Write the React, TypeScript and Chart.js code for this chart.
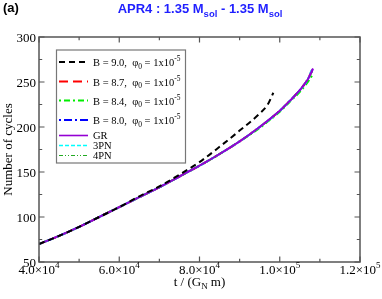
import React, { useEffect, useRef } from "react";
import { Chart, registerables } from "chart.js";

Chart.register(...registerables);

// ---- data ----
const tGR = [40000, 45000, 50000, 55000, 60000, 65000, 70000, 75000, 80000, 85000, 90000, 95000, 100000, 102500, 105000, 107000, 108300];
const nGR = [70, 79, 89, 100, 111, 122, 133, 145, 157, 170, 184, 200, 218, 229, 241, 253, 265];

const tB90 = [40000, 45000, 50000, 55000, 60000, 65000, 70000, 75000, 80000, 85000, 90000, 95000, 97000, 98400];
const nB90 = [70, 79, 89, 100, 111, 123, 134, 147, 161, 178, 196, 215, 225, 238];

const tB87 = [40000, 45000, 50000, 55000, 60000, 65000, 70000, 75000, 80000, 85000, 90000, 95000, 100000, 102500, 105000, 107000, 108000];
const nB87 = [70, 79, 89, 100, 111, 122, 133, 145, 157, 170, 184, 200, 218, 229, 241, 253, 263];

const tB84 = [40000, 45000, 50000, 55000, 60000, 65000, 70000, 75000, 80000, 85000, 90000, 95000, 100000, 102500, 105000, 107000, 108300];
const nB84 = [70, 79, 89, 100, 111, 122, 133, 145, 157, 170, 184, 199, 217, 228, 239, 250, 259];

const tB80 = [40000, 45000, 50000, 55000, 60000, 65000, 70000, 75000, 80000, 85000, 90000, 95000, 100000, 102500, 105000, 107000, 108200];
const nB80 = [70, 79, 89, 100, 111, 122, 133, 145, 157, 170, 184, 200, 218, 229, 241, 253, 264];

const t3PN = [40000, 45000, 50000, 55000, 60000, 65000, 70000, 75000, 80000, 85000, 90000, 95000, 100000, 102500, 105000, 107000, 108000];
const n3PN = [70, 79, 89, 100, 111, 122, 133, 145, 157, 170, 184, 200, 218, 229, 241, 253, 264];

const t4PN = [40000, 45000, 50000, 55000, 60000, 65000, 70000, 75000, 80000, 85000, 90000, 95000, 100000, 102500, 105000, 107000, 108100];
const n4PN = [70, 79, 89, 100, 111, 122, 133, 145, 157, 170, 184, 200, 218, 229, 241, 252, 262];

const xMajorTicks = [40000, 60000, 80000, 100000, 120000];
const xTickBase = ["4.0×10", "6.0×10", "8.0×10", "1.0×10", "1.2×10"];
const xTickExp = ["4", "4", "4", "5", "5"];
const yMajorTicks = [50, 100, 150, 200, 250, 300];

type Series = { label: string; t: number[]; n: number[]; color: string; dash: number[]; width: number; phi: boolean };

const series: Series[] = [
  { label: "B = 9.0,", t: tB90, n: nB90, color: "#000000", dash: [6, 4], width: 2, phi: true },
  { label: "B = 8.7,", t: tB87, n: nB87, color: "#ff0000", dash: [9, 5], width: 2, phi: true },
  { label: "B = 8.4,", t: tB84, n: nB84, color: "#00ee00", dash: [2, 3, 6, 3], width: 2, phi: true },
  { label: "B = 8.0,", t: tB80, n: nB80, color: "#0000ff", dash: [2, 3, 8, 3], width: 2, phi: true },
  { label: "GR", t: tGR, n: nGR, color: "#9400d3", dash: [], width: 1.6, phi: false },
  { label: "3PN", t: t3PN, n: n3PN, color: "#00ffff", dash: [4, 2], width: 1.6, phi: false },
  { label: "4PN", t: t4PN, n: n4PN, color: "#22aa22", dash: [4, 2, 1, 2, 1, 2], width: 1.2, phi: false },
];

const drawOrder = [0, 4, 5, 2, 1, 3, 6];

const SERIF = "'Liberation Serif', 'DejaVu Serif', serif";
const SANS = "'Liberation Sans', Arial, sans-serif";

type Part = { text: string; font: string; dy: number };

function richWidth(ctx: CanvasRenderingContext2D, parts: Part[]) {
  let w = 0;
  for (const p of parts) {
    ctx.font = p.font;
    w += ctx.measureText(p.text).width;
  }
  return w;
}

function drawRich(ctx: CanvasRenderingContext2D, parts: Part[], x: number, y: number, align: "left" | "center" | "right") {
  const w = richWidth(ctx, parts);
  let cx = align === "left" ? x : align === "center" ? x - w / 2 : x - w;
  ctx.textAlign = "left";
  ctx.textBaseline = "alphabetic";
  for (const p of parts) {
    ctx.font = p.font;
    ctx.fillText(p.text, cx, y + p.dy);
    cx += ctx.measureText(p.text).width;
  }
}

const decorPlugin = {
  id: "decor",
  afterDraw(chart: any) {
    const ctx: CanvasRenderingContext2D = chart.ctx;
    const { left, right, top, bottom } = chart.chartArea;
    const xs = chart.scales.x;
    const ys = chart.scales.y;
    ctx.save();

    // frame
    ctx.strokeStyle = "#555555";
    ctx.lineWidth = 1.5;
    ctx.setLineDash([]);
    ctx.strokeRect(left, top, right - left, bottom - top);

    // ticks
    ctx.lineWidth = 1.2;
    for (let v = 40000; v <= 120000; v += 10000) {
      const px = xs.getPixelForValue(v);
      const len = v % 20000 === 0 ? 5.5 : 3.2;
      ctx.beginPath();
      ctx.moveTo(px, bottom);
      ctx.lineTo(px, bottom - len);
      ctx.moveTo(px, top);
      ctx.lineTo(px, top + len);
      ctx.stroke();
    }
    for (let v = 50; v <= 300; v += 25) {
      const py = ys.getPixelForValue(v);
      const len = v % 50 === 0 ? 5.5 : 3.2;
      ctx.beginPath();
      ctx.moveTo(left, py);
      ctx.lineTo(left + len, py);
      ctx.moveTo(right, py);
      ctx.lineTo(right - len, py);
      ctx.stroke();
    }

    ctx.fillStyle = "#000000";
    // y tick labels
    ctx.font = `13px ${SERIF}`;
    ctx.textAlign = "right";
    ctx.textBaseline = "alphabetic";
    for (const v of yMajorTicks) {
      const py = ys.getPixelForValue(v);
      ctx.fillText(String(v), left - 3, py + 4.5);
    }
    // x tick labels
    xMajorTicks.forEach((v, i) => {
      const px = xs.getPixelForValue(v);
      drawRich(
        ctx,
        [
          { text: xTickBase[i], font: `13px ${SERIF}`, dy: 0 },
          { text: xTickExp[i], font: `9px ${SERIF}`, dy: -6 },
        ],
        px,
        bottom + 11.5,
        "center"
      );
    });

    // axis titles
    drawRich(
      ctx,
      [
        { text: "t / (G", font: `13px ${SERIF}`, dy: 0 },
        { text: "N", font: `9px ${SERIF}`, dy: 3 },
        { text: " m)", font: `13px ${SERIF}`, dy: 0 },
      ],
      (left + right) / 2,
      286,
      "center"
    );
    ctx.save();
    ctx.translate(11.5, (top + bottom) / 2);
    ctx.rotate(-Math.PI / 2);
    ctx.font = `13px ${SERIF}`;
    ctx.textAlign = "center";
    ctx.fillText("Number of cycles", 0, 0);
    ctx.restore();

    // titles
    ctx.font = `bold 13px ${SANS}`;
    ctx.textAlign = "left";
    ctx.fillText("(a)", 3, 11.5);
    ctx.fillStyle = "#1f1fff";
    drawRich(
      ctx,
      [
        { text: "APR4 : 1.35 M", font: `bold 13px ${SANS}`, dy: 0 },
        { text: "sol", font: `bold 9.5px ${SANS}`, dy: 4 },
        { text: " - 1.35 M", font: `bold 13px ${SANS}`, dy: 0 },
        { text: "sol", font: `bold 9.5px ${SANS}`, dy: 4 },
      ],
      200,
      13,
      "center"
    );

    // legend
    const lx0 = 56.5, ly0 = 50, lx1 = 185.5, ly1 = 163;
    ctx.fillStyle = "#ffffff";
    ctx.fillRect(lx0, ly0, lx1 - lx0, ly1 - ly0);
    ctx.strokeStyle = "#777777";
    ctx.lineWidth = 1.2;
    ctx.setLineDash([]);
    ctx.strokeRect(lx0, ly0, lx1 - lx0, ly1 - ly0);
    const rowY = [62, 81.5, 100.5, 120, 135.5, 145.5, 155.5];
    series.forEach((s, i) => {
      const y = rowY[i];
      ctx.strokeStyle = s.color;
      ctx.lineWidth = s.width;
      ctx.setLineDash(s.dash);
      ctx.beginPath();
      ctx.moveTo(59, y);
      ctx.lineTo(88, y);
      ctx.stroke();
      ctx.setLineDash([]);
      ctx.fillStyle = "#000000";
      if (s.phi) {
        drawRich(
          ctx,
          [
            { text: s.label + "  φ", font: `10.5px ${SERIF}`, dy: 0 },
            { text: "0", font: `7.5px ${SERIF}`, dy: 2.5 },
            { text: " = 1x10", font: `10.5px ${SERIF}`, dy: 0 },
            { text: "-5", font: `7.5px ${SERIF}`, dy: -5 },
          ],
          93,
          y + 4,
          "left"
        );
      } else {
        ctx.font = `10.5px ${SERIF}`;
        ctx.textAlign = "left";
        ctx.fillText(s.label, 93, y + 3.5);
      }
    });

    ctx.restore();
  },
};

export default function App() {
  const ref = useRef<HTMLCanvasElement | null>(null);
  useEffect(() => {
    if (!ref.current) return;
    const datasets = drawOrder.map((idx, k) => {
      const s = series[idx];
      return {
        label: s.label,
        data: s.t.map((t, j) => ({ x: t, y: s.n[j] })),
        borderColor: s.color,
        backgroundColor: s.color,
        borderWidth: s.width < 1.5 ? 1.5 : 2,
        borderDash: s.dash,
        pointRadius: 0,
        fill: false,
        cubicInterpolationMode: "monotone" as const,
        order: k,
      };
    });
    const chart = new Chart(ref.current, {
      type: "line",
      data: { datasets },
      options: {
        animation: false,
        responsive: false,
        parsing: true,
        layout: { padding: { left: 39, right: 22, top: 37, bottom: 37 } },
        plugins: { legend: { display: false }, title: { display: false }, tooltip: { enabled: false } },
        scales: {
          x: { type: "linear", min: 40000, max: 120000, display: false },
          y: { type: "linear", min: 50, max: 300, display: false },
        },
      },
      plugins: [decorPlugin],
    });
    return () => chart.destroy();
  }, []);
  return (
    <div style={{ position: "fixed", left: 0, top: 0, width: 382, height: 299, background: "#ffffff" }}>
      <canvas ref={ref} width={382} height={299} style={{ display: "block" }} />
    </div>
  );
}
